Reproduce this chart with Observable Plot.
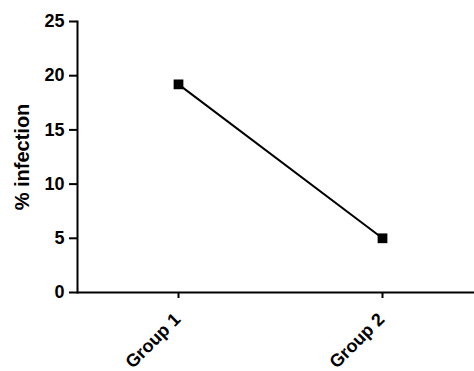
<!DOCTYPE html>
<html><head><meta charset="utf-8">
<script src="https://cdn.jsdelivr.net/npm/d3@7"></script>
<script src="https://cdn.jsdelivr.net/npm/@observablehq/plot@0.6"></script>
<style>body{margin:0;background:#fff}</style>
</head><body><div id="chart"></div>
<script>
const groups = ["Group 1", "Group 2"];
const infection = [19.2, 5.0];
const yTicks = [0, 5, 10, 15, 20, 25];
const data = groups.map((g, i) => ({group: g, value: infection[i]}));

const plot = Plot.plot({
  width: 474,
  height: 371,
  marginLeft: 77,
  marginRight: 0,
  marginTop: 21,
  marginBottom: 79,
  style: {fontFamily: "Liberation Sans, Arial, sans-serif", fontWeight: "bold", background: "#fff"},
  x: {type: "point", domain: groups, range: [178, 382], padding: 0},
  y: {domain: [0, 25]},
  marks: [
    Plot.frame({anchor: "left", stroke: "black", strokeWidth: 2}),
    Plot.ruleY([0], {stroke: "black", strokeWidth: 2}),
    Plot.axisY({ticks: yTicks, tickSize: 8, tickPadding: 5, fontSize: 18, strokeWidth: 2, label: null}),
    Plot.axisX({tickSize: 6, tickFormat: () => "", strokeWidth: 2, label: null}),
    Plot.text(groups, {x: d => d, frameAnchor: "bottom", dx: 3, dy: 28, rotate: -45, textAnchor: "end", fontSize: 18, fontWeight: "bold"}),
    Plot.text(["% infection"], {frameAnchor: "left", textAnchor: "middle", rotate: -90, dx: -55, fontSize: 20, fontWeight: "bold"}),
    Plot.line(data, {x: "group", y: "value", stroke: "black", strokeWidth: 2}),
    Plot.dot(data, {x: "group", y: "value", symbol: "square", r: 5.5, fill: "black"})
  ]
});
document.getElementById("chart").append(plot);
</script></body></html>
